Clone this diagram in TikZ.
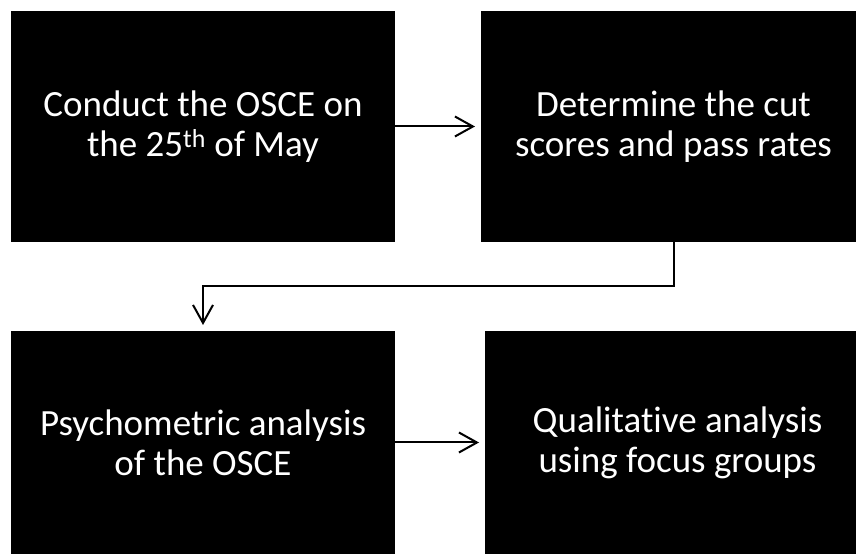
\documentclass[tikz,border=0pt]{standalone}
\usepackage{fontspec}
\setmainfont{Carlito}[Ligatures=NoCommon]
\usepackage{xcolor}
\usepackage{tikz}
\usetikzlibrary{arrows.meta, positioning}
\definecolor{boxblack}{RGB}{0, 0, 0}
\definecolor{linkblack}{RGB}{0, 0, 0}

\begin{document}
\begin{tikzpicture}[
    x=1pt, y=1pt,
    stage/.style={rectangle, fill=boxblack, draw=none, inner sep=0pt, outer sep=0pt, minimum width=384pt, align=center, text=white, font=\fontsize{37}{40}\selectfont},
    widestage/.style={stage, minimum width=385pt},
    arrow/.style={-{Straight Barb[length=18pt, width=20pt, line width=2pt]}, line width=2pt, linkblack, shorten >=6pt}
]
    \clip (0,0) rectangle (856,554);
    % Stages
    \node[stage, minimum height=231pt] (conduct) at (203,427.5) {Conduct the OSCE on\\the 25\textsuperscript{th} of May};
    \node[widestage, minimum height=231pt, right=86pt of conduct] (cutscores) {Determine the cut\\scores and pass rates};
    \node[stage, minimum height=223pt, below=89pt of conduct] (psycho) {Psychometric analysis\\of the OSCE};
    \node[widestage, minimum height=223pt, right=90pt of psycho] (qualit) {Qualitative analysis\\using focus groups};

    % Arrows
    \draw[arrow] (conduct) -- (cutscores);
    \draw[arrow] (cutscores.south) -- ++(0,-44.5) -| (psycho.north);
    \draw[arrow] (psycho) -- (qualit);
\end{tikzpicture}
\end{document}
